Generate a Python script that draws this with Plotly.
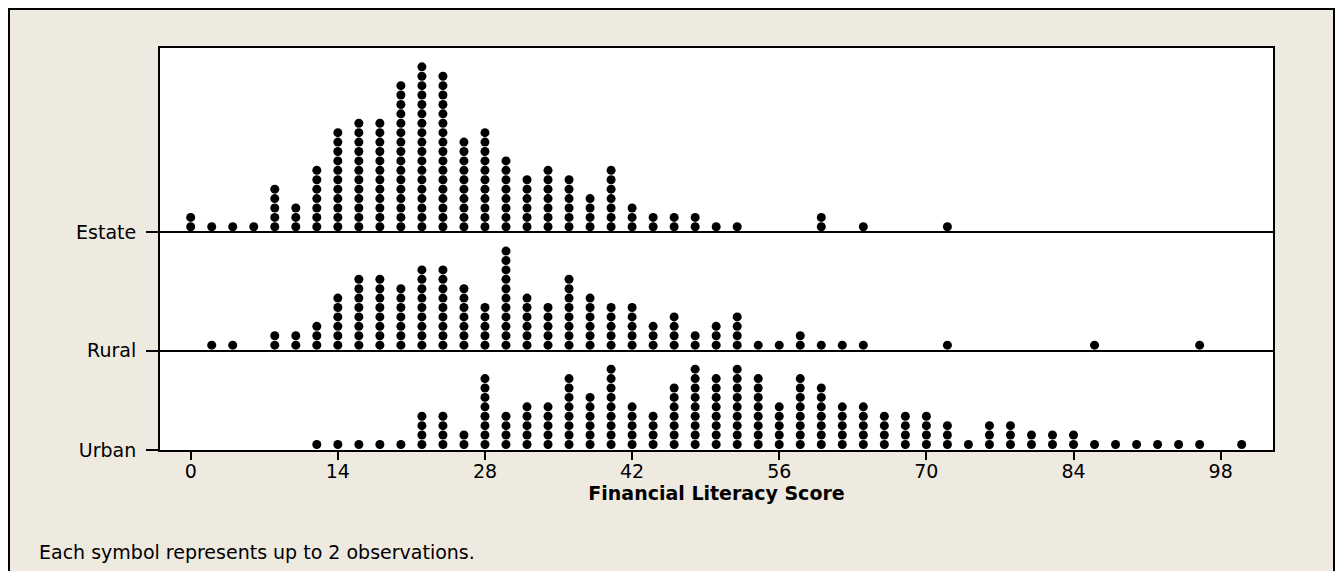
import plotly.graph_objects as go

# ---- data: dot counts per score bin (each symbol = up to 2 observations) ----
score_bins = [0, 2, 4, 6, 8, 10, 12, 14, 16, 18, 20, 22, 24, 26, 28, 30, 32, 34, 36, 38,
              40, 42, 44, 46, 48, 50, 52, 54, 56, 58, 60, 62, 64, 66, 68, 70, 72, 74, 76, 78,
              80, 82, 84, 86, 88, 90, 92, 94, 96, 98, 100]

estate_counts = [2, 1, 1, 1, 5, 3, 7, 11, 12, 12,
                 16, 18, 17, 10, 11, 8, 6, 7, 6, 4,
                 7, 3, 2, 2, 2, 1, 1, 0, 0, 0,
                 2, 0, 1, 0, 0, 0, 1, 0, 0, 0,
                 0, 0, 0, 0, 0, 0, 0, 0, 0, 0, 0]

rural_counts = [0, 1, 1, 0, 2, 2, 3, 6, 8, 8,
                7, 9, 9, 7, 5, 11, 6, 5, 8, 6,
                5, 5, 3, 4, 2, 3, 4, 1, 1, 2,
                1, 1, 1, 0, 0, 0, 1, 0, 0, 0,
                0, 0, 0, 1, 0, 0, 0, 0, 1, 0, 0]

urban_counts = [0, 0, 0, 0, 0, 0, 1, 1, 1, 1,
                1, 4, 4, 2, 8, 4, 5, 5, 8, 6,
                9, 5, 4, 7, 9, 8, 9, 8, 5, 8,
                7, 5, 5, 4, 4, 4, 3, 1, 3, 3,
                2, 2, 2, 1, 1, 1, 1, 1, 1, 0, 1]

groups = ["Urban", "Rural", "Estate"]
group_counts = [urban_counts, rural_counts, estate_counts]
x_ticks = [0, 14, 28, 42, 56, 70, 84, 98]
x_title = "Financial Literacy Score"
footnote = "Each symbol represents up to 2 observations."

# ---- layout constants (y in units of one dot row) ----
group_base = [0.0, 10.55, 23.13]
dot_offset = 0.59
y_top = 42.72

FONT = "DejaVu Sans, Verdana, sans-serif"

fig = go.Figure()
for name, counts, base in zip(groups, group_counts, group_base):
    xs, ys = [], []
    for s, c in zip(score_bins, counts):
        for k in range(c):
            xs.append(s)
            ys.append(base + dot_offset + k)
    fig.add_trace(go.Scatter(
        x=xs, y=ys, mode="markers", name=name, showlegend=False,
        marker=dict(symbol="circle", size=9, color="black", line=dict(width=0)),
        hovertemplate=name + ": %{x}<extra></extra>",
    ))

# figure is placed 8px from the page's top-left corner by the page margin
W, H = 1327, 563
L, R, T, B = 152, 62, 40, 121
pw, ph = W - L - R, H - T - B


def px_x(p):
    return (p - L) / pw


def px_y(p):
    return (H - B - p) / ph


fig.update_layout(
    width=W, height=H,
    margin=dict(l=L, r=R, t=T, b=B, autoexpand=False),
    paper_bgcolor="#EEEAE0",
    plot_bgcolor="white",
    font=dict(family=FONT, size=19, color="black"),
    xaxis=dict(
        range=[-2.92, 102.98], tickvals=x_ticks, ticks="outside", ticklen=8,
        tickwidth=1.5, tickcolor="black", showgrid=False, zeroline=False,
        ticklabelstandoff=-5,
        showline=True, linecolor="black", linewidth=2, mirror=True,
        tickfont=dict(size=19),
        title=dict(text="<b>" + x_title + "</b>", font=dict(size=19), standoff=4),
    ),
    yaxis=dict(
        range=[0, y_top], tickvals=group_base, ticktext=groups,
        ticks="outside", ticklen=12, tickwidth=1.5, tickcolor="black",
        ticklabelstandoff=6,
        showgrid=True, gridcolor="black", gridwidth=1.5, zeroline=False,
        showline=True, linecolor="black", linewidth=2, mirror=True,
        tickfont=dict(size=19),
    ),
    shapes=[dict(type="rect", xref="paper", yref="paper",
                 x0=px_x(1), x1=px_x(W - 1), y0=px_y(H + 40), y1=px_y(1),
                 line=dict(color="black", width=2), layer="below")],
    annotations=[dict(text=footnote, xref="paper", yref="paper",
                      x=px_x(29), y=px_y(544), xanchor="left", yanchor="middle",
                      showarrow=False, font=dict(size=19, family=FONT))],
)

fig.write_html("out.html")
